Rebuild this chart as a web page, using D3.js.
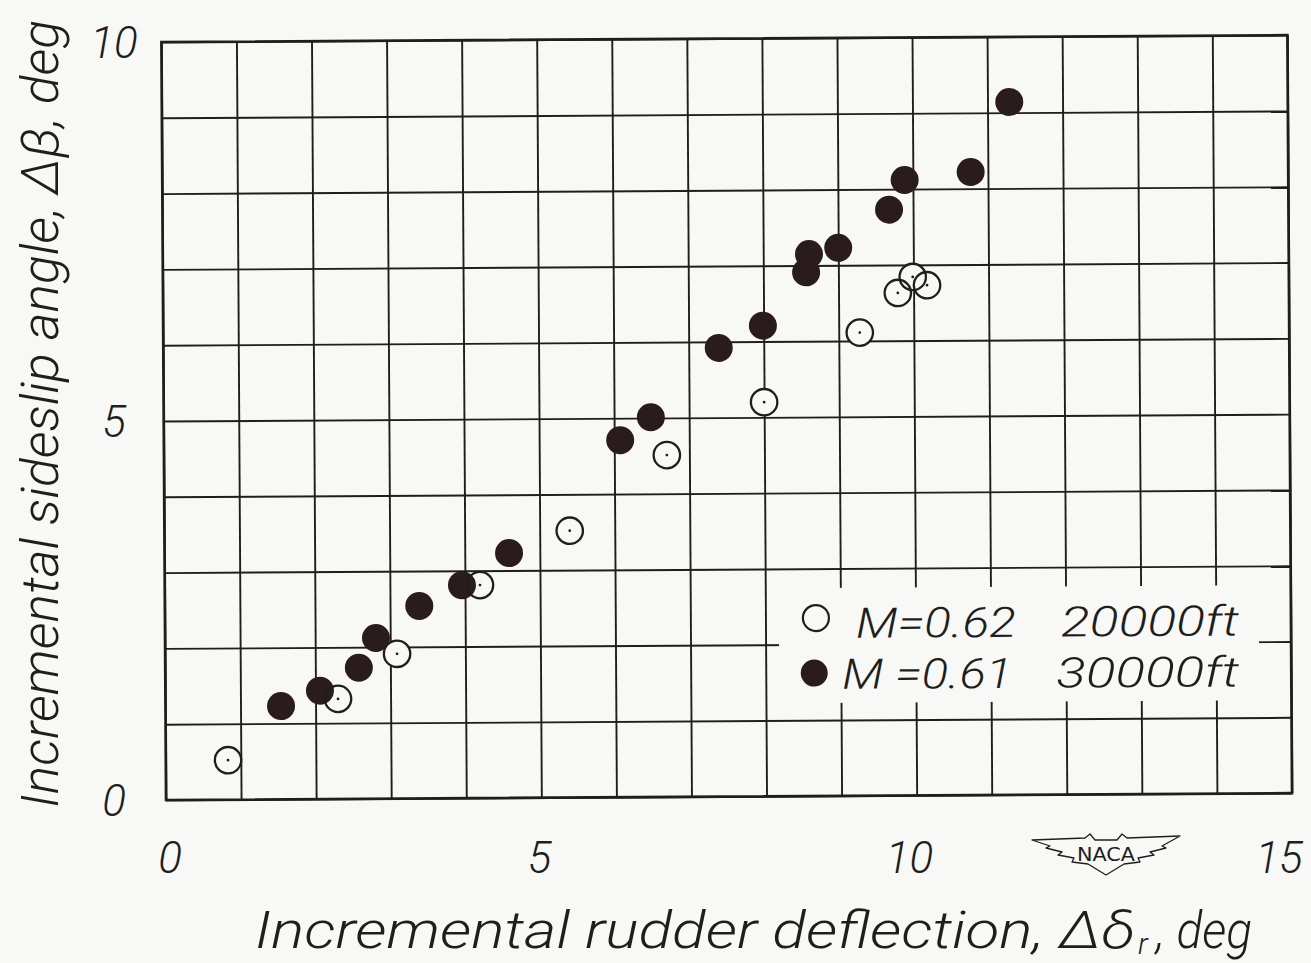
<!DOCTYPE html>
<html>
<head>
<meta charset="utf-8">
<script src="https://cdn.jsdelivr.net/npm/d3@7"></script>
<style>
  html, body { margin: 0; padding: 0; background: #f8f8f7; }
  svg { display: block; }
  .lbl { font-family: Roboto, "Open Sans", "DejaVu Sans", sans-serif; font-style: italic; font-weight: 300; fill: #1e1e1c; }
</style>
</head>
<body>
<svg id="chart" width="1311" height="963"></svg>
<script>
// Grid and tick values
const xGrid = [0, 1, 2, 3, 4, 5, 6, 7, 8, 9, 10, 11, 12, 13, 14, 15];
const yGrid = [0, 1, 2, 3, 4, 5, 6, 7, 8, 9, 10];
const xTickLabels = [0, 5, 10, 15];
const yTickLabels = [0, 5, 10];

// M = 0.62, 20000 ft (open symbols)
const openRudder   = [0.83, 2.30, 3.09, 4.20, 5.40, 6.70, 8.00, 9.28, 9.79, 9.99, 10.18];
const openSideslip = [0.52, 1.32, 1.91, 2.81, 3.52, 4.51, 5.20, 6.11, 6.63, 6.84, 6.73];

// M = 0.61, 30000 ft (solid symbols)
const solidRudder   = [1.54, 2.06, 2.58, 2.81, 3.39, 3.96, 4.59, 6.08, 6.49, 7.40, 7.99, 8.57, 8.61, 9.00, 9.68, 9.89, 10.77, 11.29];
const solidSideslip = [1.23, 1.43, 1.73, 2.12, 2.54, 2.81, 3.23, 4.71, 5.01, 5.92, 6.21, 6.91, 7.15, 7.23, 7.73, 8.12, 8.22, 9.14];

// Legend text: [Mach, altitude]
const legendOpen  = ["M=0.62", "20000ft"];
const legendSolid = ["M =0.61", "30000ft"];

const xTitle = "Incremental rudder deflection, Δδ";
const xTitleSub = "r";
const xTitleEnd = ", deg";
const yTitle = "Incremental sideslip angle, Δβ, deg";

const ink = "#1e1e1c";
const solidInk = "#2a1b1d";
const paper = "#f8f8f7";

const svg = d3.select("#chart");
const W = 1126, H = 758;
const ox = 166, oy = 800;

const x = d3.scaleLinear().domain([0, 15]).range([0, W]);
const y = d3.scaleLinear().domain([0, 10]).range([H, 0]);

// plot sheet is slightly tilted
const g = svg.append("g")
  .attr("transform", `translate(${ox},${oy}) rotate(-0.35) translate(0,${-H})`);

// vertical grid
g.append("g")
  .attr("transform", `translate(0,${H})`)
  .call(d3.axisBottom(x).tickValues(xGrid).tickSize(-H).tickFormat(""))
  .call(s => s.select(".domain").remove())
  .call(s => s.selectAll("line").attr("stroke", ink).attr("stroke-width", 1.9));

// horizontal grid
g.append("g")
  .call(d3.axisLeft(y).tickValues(yGrid).tickSize(-W).tickFormat(""))
  .call(s => s.select(".domain").remove())
  .call(s => s.selectAll("line").attr("stroke", ink).attr("stroke-width", 1.9));

// frame
g.append("rect")
  .attr("x", x(0)).attr("y", y(10))
  .attr("width", x(15) - x(0)).attr("height", y(0) - y(10))
  .attr("fill", "none").attr("stroke", ink).attr("stroke-width", 2.6);

// legend panel clears the grid behind it
g.append("rect")
  .attr("x", 614).attr("y", 550)
  .attr("width", 480).attr("height", 115)
  .attr("fill", paper);

const r = 13.5;
const openPts = openRudder.map((d, i) => [d, openSideslip[i]]);
const solidPts = solidRudder.map((d, i) => [d, solidSideslip[i]]);

// open symbol fills (hide grid inside)
g.append("g").selectAll("circle").data(openPts).join("circle")
  .attr("cx", d => x(d[0])).attr("cy", d => y(d[1]))
  .attr("r", r - 1).attr("fill", paper);

// solid symbols
g.append("g").selectAll("circle").data(solidPts).join("circle")
  .attr("cx", d => x(d[0])).attr("cy", d => y(d[1]))
  .attr("r", r + 0.5).attr("fill", solidInk);

// open symbol outlines and centre dots
const og = g.append("g");
og.selectAll("circle.o").data(openPts).join("circle")
  .attr("class", "o")
  .attr("cx", d => x(d[0])).attr("cy", d => y(d[1]))
  .attr("r", r - 0.3).attr("fill", "none").attr("stroke", ink).attr("stroke-width", 2.3);
og.selectAll("circle.c").data(openPts).join("circle")
  .attr("class", "c")
  .attr("cx", d => x(d[0])).attr("cy", d => y(d[1]))
  .attr("r", 1.4).attr("fill", ink);

// legend
const lg = g.append("g");
lg.append("circle").attr("cx", 651).attr("cy", 580).attr("r", r - 0.5)
  .attr("fill", "none").attr("stroke", ink).attr("stroke-width", 2.2);
lg.append("circle").attr("cx", 649).attr("cy", 635).attr("r", r)
  .attr("fill", solidInk);
const legRows = [
  { t: legendOpen,  y: 600, x1: 691, l1: 160, x2: 896, l2: 178 },
  { t: legendSolid, y: 651, x1: 677, l1: 170, x2: 891, l2: 183 }
];
legRows.forEach(row => {
  lg.append("text").attr("class", "lbl").attr("x", row.x1).attr("y", row.y)
    .attr("font-size", 42).attr("textLength", row.l1).attr("lengthAdjust", "spacingAndGlyphs")
    .text(row.t[0]);
  lg.append("text").attr("class", "lbl").attr("x", row.x2).attr("y", row.y)
    .attr("font-size", 42).attr("textLength", row.l2).attr("lengthAdjust", "spacingAndGlyphs")
    .text(row.t[1]);
});

// tick labels
svg.append("g").selectAll("text").data(xTickLabels).join("text")
  .attr("class", "lbl")
  .attr("x", d => ox + 4 + x(d) * 0.985).attr("y", 873)
  .attr("text-anchor", "middle").attr("font-size", 44)
  .text(d => d);

svg.append("g").selectAll("text").data(yTickLabels).join("text")
  .attr("class", "lbl")
  .attr("x", 114).attr("y", d => oy - H + y(d) + 16)
  .attr("text-anchor", "middle").attr("font-size", 44)
  .text(d => d);

// axis titles
svg.append("text").attr("class", "lbl")
  .attr("x", 255).attr("y", 948)
  .attr("font-size", 52).attr("textLength", 880).attr("lengthAdjust", "spacingAndGlyphs")
  .text(xTitle);
svg.append("text").attr("class", "lbl")
  .attr("x", 1138).attr("y", 954)
  .attr("font-size", 30)
  .text(xTitleSub);
svg.append("text").attr("class", "lbl")
  .attr("x", 1156).attr("y", 948)
  .attr("font-size", 52).attr("textLength", 96).attr("lengthAdjust", "spacingAndGlyphs")
  .text(xTitleEnd);

svg.append("text").attr("class", "lbl")
  .attr("transform", "translate(58,808) rotate(-90)")
  .attr("x", 0).attr("y", 0)
  .attr("font-size", 52).attr("textLength", 788).attr("lengthAdjust", "spacingAndGlyphs")
  .text(yTitle);

// NACA wing emblem
const cx = 1106;
const wingR = [[74, 836], [56, 846], [60, 848], [44, 852], [48, 855], [32, 858], [34, 862], [18, 864], [0, 875]];
const pts = [];
pts.push([cx - 74, 840], [cx - 21, 838], [cx - 16, 834], [cx - 11, 840], [cx + 11, 840], [cx + 16, 834], [cx + 21, 838]);
wingR.forEach(p => pts.push([cx + p[0], p[1]]));
wingR.slice(0, -1).reverse().forEach(p => pts.push([cx - p[0], p[1] + (p[0] === 74 ? 4 : 0)]));
svg.append("path")
  .attr("d", d3.line()(pts) + "Z")
  .attr("fill", "none").attr("stroke", ink).attr("stroke-width", 1.3).attr("stroke-linejoin", "round");
svg.append("text")
  .attr("x", cx).attr("y", 861)
  .attr("text-anchor", "middle")
  .attr("font-family", "DejaVu Sans, sans-serif").attr("font-size", 20)
  .attr("textLength", 58).attr("lengthAdjust", "spacingAndGlyphs")
  .attr("fill", ink)
  .text("NACA");
</script>
</body>
</html>
